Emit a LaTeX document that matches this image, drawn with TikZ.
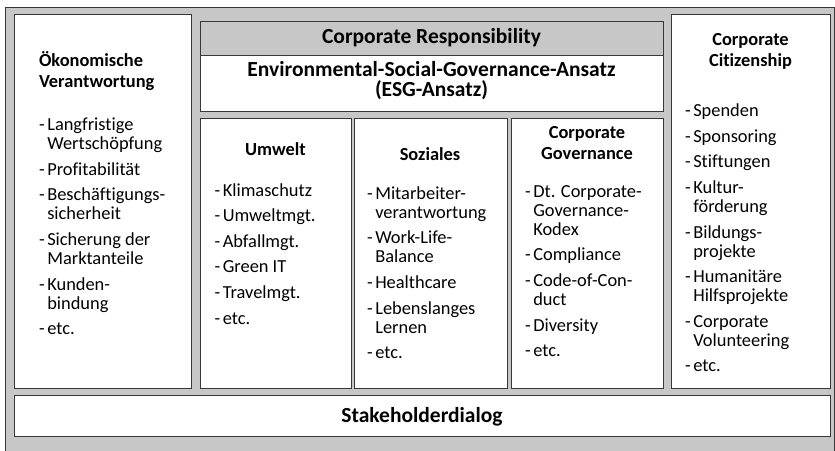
\documentclass[tikz,border=0pt]{standalone}
\usepackage{fontspec}
\setmainfont{Carlito}[Ligatures=NoCommon]

\definecolor{panel}{gray}{0.78}
\definecolor{edge}{gray}{0.22}

% list item with a hanging dash
\newcommand\itm[1]{\par\noindent\hangindent=8.3pt\hangafter=1\makebox[8.3pt][l]{-}#1}
% a list of items whose baseline is that of its first line
\newcommand\itemlist[1]{\vtop{\hsize=160pt\parindent=0pt\parskip=6.6pt\rightskip=0pt plus 1fil\relax#1\par}}
% stacked lines, baseline on the first line
\newcommand\leftlines[1]{\vtop{\halign{##\hfil\cr#1\crcr}}}
\newcommand\centerlines[1]{\vtop{\halign{\hfil##\hfil\cr#1\crcr}}}

\tikzset{
  panelbox/.style={draw=edge, line width=1.3pt, fill=white, inner sep=0pt, anchor=north west},
  headbox/.style={panelbox, fill=panel},
  txt/.style={inner sep=0pt, outer sep=0pt, text=black},
  bodytxt/.style={txt, anchor=base west, font=\fontsize{18.4}{19}\selectfont},
  headtxt/.style={txt, font=\fontsize{18.4}{21.5}\selectfont\bfseries},
  titletxt/.style={txt, anchor=base, font=\fontsize{21.5}{20.5}\selectfont\bfseries},
}

\begin{document}
\begin{tikzpicture}[x=1pt,y=-1pt]
  \useasboundingbox (0,0) rectangle (835,450);
  \clip (0,0) rectangle (835,450);

  % gray frame around everything
  \node[headbox, line width=1pt, minimum width=828.5pt, minimum height=455pt] (frame) at (5,7) {};

  % boxes
  \node[panelbox, minimum width=177pt, minimum height=374pt] (oekobox) at (14,14) {};
  \node[headbox,  minimum width=463pt, minimum height=34pt]  (crbox)   at (200,21) {};
  \node[panelbox, minimum width=463pt, minimum height=56pt]  (esgbox)  at (200,55) {};
  \node[panelbox, minimum width=151pt, minimum height=270pt] (umwbox)  at (200,118) {};
  \node[panelbox, minimum width=152.5pt, minimum height=270pt] (sozbox) at (354,118) {};
  \node[panelbox, minimum width=152pt, minimum height=270pt] (govbox)  at (511,118) {};
  \node[panelbox, minimum width=159pt, minimum height=374pt] (citbox)  at (671,14) {};
  \node[panelbox, minimum width=816pt, minimum height=41pt]  (stakebox) at (14,395) {};

  % top headings
  \node[titletxt] (crtitle) at (431.5,43.5) {Corporate Responsibility};
  \node[titletxt] (esgtitle) at (431.5,76)
    {\centerlines{Environmental-Social-Governance-Ansatz\cr (ESG-Ansatz)}};
  \node[titletxt] (staketitle) at (422,422) {Stakeholderdialog};

  % column headings
  \node[headtxt, anchor=base west] (oekohead) at (39,66) {\leftlines{Ökonomische\cr Verantwortung}};
  \node[headtxt, anchor=base] (umwhead) at (275.5,155) {Umwelt};
  \node[headtxt, anchor=base] (sozhead) at (430,160) {Soziales};
  \node[headtxt, anchor=base] (govhead) at (587,138) {\centerlines{Corporate\cr Governance}};
  \node[headtxt, anchor=base] (cithead) at (750.5,45) {\centerlines{Corporate\cr Citizenship}};

  % column contents
  \node[bodytxt] (oekolist) at (39,130.7) {\itemlist{%
    \itm{Langfristige\newline Wertschöpfung}
    \itm{Profitabilität}
    \itm{Beschäftigungs-\newline sicherheit}
    \itm{Sicherung der\newline Marktanteile}
    \itm{Kunden-\newline bindung}
    \itm{etc.}}};

  \node[bodytxt] (umwlist) at (214.5,196) {\itemlist{%
    \itm{Klimaschutz}
    \itm{Umweltmgt.}
    \itm{Abfallmgt.}
    \itm{Green IT}
    \itm{Travelmgt.}
    \itm{etc.}}};

  \node[bodytxt] (sozlist) at (367,199.3) {\itemlist{%
    \itm{Mitarbeiter-\newline verantwortung}
    \itm{Work-Life-\newline Balance}
    \itm{Healthcare}
    \itm{Lebenslanges\newline Lernen}
    \itm{etc.}}};

  \node[bodytxt] (govlist) at (525,197.3) {\itemlist{%
    \itm{Dt. Corporate-\newline Governance-\newline Kodex}
    \itm{Compliance}
    \itm{Code-of-Con-\newline duct}
    \itm{Diversity}
    \itm{etc.}}};

  \node[bodytxt] (citlist) at (685,116.7) {\itemlist{%
    \itm{Spenden}
    \itm{Sponsoring}
    \itm{Stiftungen}
    \itm{Kultur-\newline förderung}
    \itm{Bildungs-\newline projekte}
    \itm{Humanitäre\newline Hilfsprojekte}
    \itm{Corporate\newline Volunteering}
    \itm{etc.}}};
\end{tikzpicture}
\end{document}
